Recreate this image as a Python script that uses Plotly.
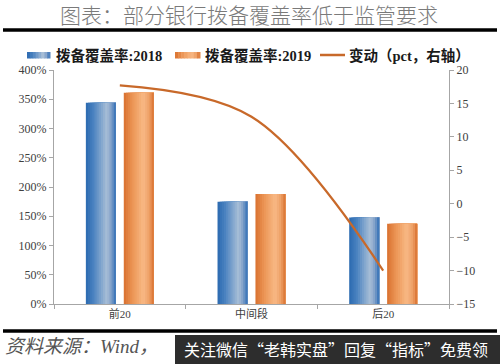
import plotly.graph_objects as go

categories = ["前20", "中间段", "后20"]
cov_2018 = [344, 175, 148]
cov_2019 = [361, 188, 137]
change_pct = [17.7, 13.0, -10.0]
left_ticks = [0, 50, 100, 150, 200, 250, 300, 350, 400]
right_ticks = [-15, -10, -5, 0, 5, 10, 15, 20]

W, H = 500, 364
# plot area in page pixels: x 54..449, y 70..304
PL, PR, PT, PB = 54, 449, 70, 304
L, T = PL, PT
R = W - PR
B = H - PB
PW, PH = PR - PL, PB - PT


def px(x):
    return (x - PL) / PW


def py(y):
    return (PB - y) / PH


def hex2rgb(h):
    h = h.lstrip("#")
    return tuple(int(h[i:i + 2], 16) for i in (0, 2, 4))


def grad(stops, t):
    for (t0, c0), (t1, c1) in zip(stops, stops[1:]):
        if t0 <= t <= t1:
            f = (t - t0) / (t1 - t0) if t1 > t0 else 0
            a, b = hex2rgb(c0), hex2rgb(c1)
            return "rgb(%d,%d,%d)" % tuple(round(a[i] + (b[i] - a[i]) * f) for i in range(3))
    return stops[-1][1]


blue_stops = [(0, "#2b69b0"), (0.25, "#4a82c0"), (0.7, "#a9bfd7"), (0.85, "#7f9fc8"), (1.0, "#2e6db5")]
orange_stops = [(0, "#d9712f"), (0.3, "#ec9656"), (0.65, "#f8b985"), (0.85, "#eea066"), (1.0, "#d8702e")]

fig = go.Figure()

N = 14
bar_w = 0.228
for vals, base, stops in [(cov_2018, -0.258, blue_stops), (cov_2019, 0.030, orange_stops)]:
    for i in range(N):
        off = base + bar_w * i / N
        fig.add_trace(go.Bar(
            x=categories, y=vals, offset=off, width=bar_w - bar_w * i / N,
            marker=dict(color=grad(stops, (i + 0.5) / N), line=dict(width=0)),
            showlegend=False, hoverinfo="skip" if i else "y", yaxis="y"))

fig.add_trace(go.Scatter(
    x=categories, y=change_pct, mode="lines", yaxis="y2",
    line=dict(color="#c8692a", width=2.2, shape="spline", smoothing=1.0),
    showlegend=False))

tickfont = dict(family="Liberation Serif, Noto Sans CJK SC", size=12, color="#404040")

shapes = []
annotations = []

# top / bottom black rules
shapes.append(dict(type="line", xref="paper", yref="paper", x0=px(3), x1=px(497),
                   y0=py(30), y1=py(30), line=dict(color="black", width=3.5)))
shapes.append(dict(type="line", xref="paper", yref="paper", x0=px(3), x1=px(497),
                   y0=py(331), y1=py(331), line=dict(color="black", width=3.5)))

# title
annotations.append(dict(text="图表：部分银行拨备覆盖率低于监管要求", xref="paper", yref="paper",
                        x=px(249), y=py(14), showarrow=False, xanchor="center", yanchor="middle",
                        font=dict(family="Noto Sans CJK SC", size=21, color="#7a7a7a", weight=300)))


def legend_rect(x0, x1, stops):
    n = 8
    for i in range(n):
        a = x0 + (x1 - x0) * i / n
        b = x0 + (x1 - x0) * (i + 1) / n + 0.5
        shapes.append(dict(type="rect", xref="paper", yref="paper", x0=px(a), x1=px(b),
                           y0=py(58.5), y1=py(52), line=dict(width=0),
                           fillcolor=grad(stops, (i + 0.5) / n)))


legfont = dict(family="Liberation Serif, Noto Sans CJK SC", size=14.5, color="#1a1a1a", weight="bold")
legend_rect(27, 50, blue_stops)
annotations.append(dict(text="拨备覆盖率:2018", xref="paper", yref="paper", x=px(54), y=py(55),
                        showarrow=False, xanchor="left", yanchor="middle", font=legfont))
legend_rect(175, 200, orange_stops)
annotations.append(dict(text="拨备覆盖率:2019", xref="paper", yref="paper", x=px(203), y=py(55),
                        showarrow=False, xanchor="left", yanchor="middle", font=legfont))
shapes.append(dict(type="line", xref="paper", yref="paper", x0=px(320), x1=px(345),
                   y0=py(55), y1=py(55), line=dict(color="#c8692a", width=2.5)))
annotations.append(dict(text="变动（pct，右轴）", xref="paper", yref="paper", x=px(347), y=py(55),
                        showarrow=False, xanchor="left", yanchor="middle", font=legfont))

# source + banner
annotations.append(dict(text="<i>资料来源：Wind，</i>", xref="paper", yref="paper", x=px(3), y=py(346),
                        showarrow=False, xanchor="left", yanchor="middle",
                        font=dict(family="Liberation Serif, Noto Sans CJK SC", size=19, color="#555555")))
shapes.append(dict(type="rect", xref="paper", yref="paper", x0=px(175), x1=px(501),
                   y0=py(335), y1=py(365), line=dict(width=0), fillcolor="#2d2d2d"))
annotations.append(dict(text="关注微信“老韩实盘”回复“指标”免费领", xref="paper", yref="paper",
                        x=px(182), y=py(349), showarrow=False, xanchor="left", yanchor="middle",
                        font=dict(family="Noto Sans CJK SC", size=16, color="white")))

axis_common = dict(showline=True, linecolor="#a6a6a6", linewidth=1, ticks="outside", ticklen=4,
                   tickcolor="#a6a6a6", showgrid=False, zeroline=False, automargin=False)

fig.update_layout(
    width=W, height=H, margin=dict(l=L, r=R, t=T, b=B, autoexpand=False),
    paper_bgcolor="white", plot_bgcolor="white",
    barmode="overlay", showlegend=False,
    xaxis=dict(type="category", tickson="boundaries",
               tickfont=dict(family="Liberation Serif, Noto Sans CJK SC", size=11, color="#404040"),
               **axis_common),
    yaxis=dict(range=[0, 400], tickvals=left_ticks, ticktext=[f"{v}%" for v in left_ticks],
               tickfont=tickfont, **axis_common),
    yaxis2=dict(range=[-15, 20], tickvals=right_ticks, overlaying="y", side="right",
                tickfont=tickfont, **axis_common),
    shapes=shapes, annotations=annotations,
)

fig.write_html("out.html", config={"displayModeBar": False, "staticPlot": True},
               post_script="document.body.style.margin='0';document.body.style.overflow='hidden';")
